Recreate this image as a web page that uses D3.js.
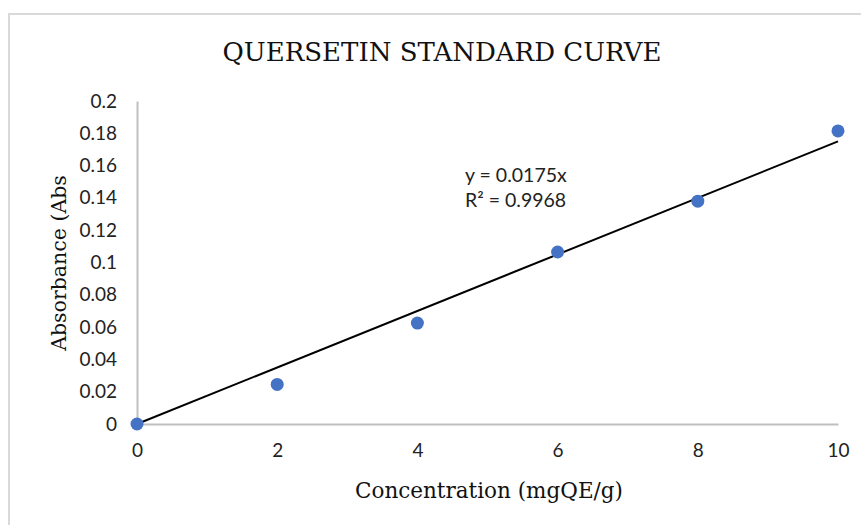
<!DOCTYPE html>
<html>
<head>
<meta charset="utf-8">
<script src="https://cdn.jsdelivr.net/npm/d3@7"></script>
<style>
  body { margin: 0; background: #fff; }
  svg { display: block; }
</style>
</head>
<body>
<div id="viz"></div>
<script>
// values
var concentration = [0, 2, 4, 6, 8, 10];
var absorbance = [0, 0.0245, 0.0625, 0.1065, 0.138, 0.1815];
var xTicks = [0, 2, 4, 6, 8, 10];
var yTicks = [0, 0.02, 0.04, 0.06, 0.08, 0.1, 0.12, 0.14, 0.16, 0.18, 0.2];
var slope = 0.0175;
var trendLabels = ["y = 0.0175x", "R² = 0.9968"];

var width = 861, height = 525;
var margin = {left: 137, right: 23, top: 101, bottom: 101};

var svg = d3.select("#viz").append("svg")
  .attr("width", width)
  .attr("height", height);

// chart frame, top and left edges only visible
svg.append("rect")
  .attr("x", 9).attr("y", 14)
  .attr("width", 870).attr("height", 540)
  .style("fill", "none")
  .style("stroke", "#d9d9d9")
  .style("stroke-width", 2);

var x = d3.scaleLinear().domain([0, 10]).range([margin.left, width - margin.right]);
var y = d3.scaleLinear().domain([0, 0.2]).range([height - margin.bottom, margin.top]);

var tickFont = "Lato, 'Open Sans', sans-serif";

var xAxis = svg.append("g")
  .attr("transform", "translate(0," + y(0) + ")")
  .call(d3.axisBottom(x).tickValues(xTicks).tickSize(0).tickPadding(20).tickFormat(d3.format("d")));
xAxis.select(".domain").style("stroke", "#bfbfbf").style("stroke-width", 2);
xAxis.selectAll("text").style("font-family", tickFont).style("font-size", "19px").style("fill", "#222");

var yAxis = svg.append("g")
  .attr("transform", "translate(" + x(0) + ",0)")
  .call(d3.axisLeft(y).tickValues(yTicks).tickSize(0).tickPadding(20).tickFormat(function (d) { return d3.format("")(+d.toFixed(2)); }));
yAxis.select(".domain").style("stroke", "#bfbfbf").style("stroke-width", 2);
yAxis.selectAll("text").style("font-family", tickFont).style("font-size", "19px").style("fill", "#222");

// linear trendline through origin
svg.append("line")
  .attr("x1", x(0)).attr("y1", y(0))
  .attr("x2", x(10)).attr("y2", y(slope * 10))
  .style("stroke", "#000")
  .style("stroke-width", 2);

svg.selectAll("circle.pt")
  .data(concentration)
  .enter().append("circle")
  .attr("class", "pt")
  .attr("cx", function (d) { return x(d); })
  .attr("cy", function (d, i) { return y(absorbance[i]); })
  .attr("r", 6.5)
  .style("fill", "#4472c4");

svg.selectAll("text.eq")
  .data(trendLabels)
  .enter().append("text")
  .attr("class", "eq")
  .attr("x", 465)
  .attr("y", function (d, i) { return 182 + i * 25; })
  .style("font-family", tickFont)
  .style("font-size", "19.5px")
  .style("fill", "#222")
  .text(function (d) { return d; });

var serif = "'DejaVu Serif', 'Liberation Serif', serif";

svg.append("text")
  .attr("x", 442).attr("y", 61)
  .attr("text-anchor", "middle")
  .style("font-family", serif)
  .style("font-size", "26px")
  .style("fill", "#111")
  .text("QUERSETIN STANDARD CURVE");

svg.append("text")
  .attr("x", 489).attr("y", 498)
  .attr("text-anchor", "middle")
  .style("font-family", serif)
  .style("font-size", "21.5px")
  .style("fill", "#111")
  .text("Concentration (mgQE/g)");

svg.append("text")
  .attr("transform", "translate(66,263) rotate(-90)")
  .attr("text-anchor", "middle")
  .style("font-family", serif)
  .style("font-size", "20.5px")
  .style("fill", "#111")
  .text("Absorbance (Abs");
</script>
</body>
</html>
